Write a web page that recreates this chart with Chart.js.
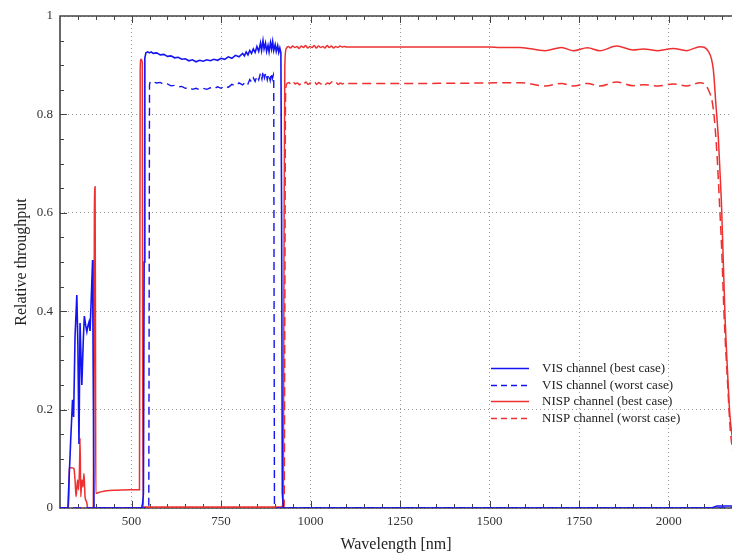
<!DOCTYPE html>
<html lang="en">
<head>
  <meta charset="UTF-8">
  <title>Relative throughput</title>
  <script src="https://cdn.jsdelivr.net/npm/chart.js"></script>
  <style>
    html, body { margin: 0; padding: 0; background: #fff; }
    canvas { display: block; }
  </style>
</head>
<body>

  <canvas id="throughputChart" width="732" height="556"></canvas>

  <script>
    // axis ranges and tick labels
    const xMin = 300, xMax = 2177;
    const xTickValues = [500, 750, 1000, 1250, 1500, 1750, 2000];
    const yTickValues = [0, 0.2, 0.4, 0.6, 0.8, 1];

    // VIS channel (best case)
    const visBestWl = [300, 322, 326, 330, 335, 338, 342, 347, 350, 353, 356, 361, 365, 368, 372, 375, 378, 381, 384, 388, 391, 392, 395,
      528, 531, 533, 535, 537, 540, 545, 550, 555, 560, 570, 580, 590, 600, 610, 620, 630, 640, 650, 660, 670, 680, 690, 700,
      710, 720, 730, 740, 750, 760, 770, 780, 790, 800, 810, 815, 820, 825, 830, 835, 840, 845, 850, 855, 860, 863, 867, 870,
      874, 877, 881, 884, 888, 891, 894, 897, 901, 904, 908, 911, 914, 917, 919, 921, 924, 2120, 2135, 2177];
    const visBest = [0, 0, 0.07, 0.14, 0.22, 0.185, 0.348, 0.433, 0.33, 0.13, 0.376, 0.25, 0.34, 0.39, 0.37, 0.358, 0.37, 0.378, 0.36, 0.44, 0.504, 0.37, 0,
      0, 0.01, 0.03, 0.5, 0.915, 0.925, 0.927, 0.925, 0.927, 0.924, 0.925, 0.921, 0.922, 0.918, 0.919, 0.915, 0.916, 0.912, 0.913, 0.909, 0.911, 0.907, 0.910, 0.908,
      0.911, 0.909, 0.912, 0.910, 0.914, 0.912, 0.917, 0.914, 0.920, 0.917, 0.924, 0.919, 0.927, 0.921, 0.930, 0.924, 0.933, 0.926, 0.938, 0.928, 0.945, 0.930, 0.950, 0.933,
      0.945, 0.928, 0.940, 0.927, 0.946, 0.933, 0.948, 0.930, 0.942, 0.928, 0.940, 0.926, 0.935, 0.925, 0.6, 0.03, 0, 0, 0.004, 0.004];

    // VIS channel (worst case)
    const visWorstWl = [300, 548, 549, 550, 552, 560, 570, 580, 590, 600, 610, 620, 630, 640, 650, 660, 670, 680, 690, 700,
      710, 720, 730, 740, 750, 760, 770, 780, 790, 800, 810, 820, 825, 830, 835, 840, 845, 850, 855, 860, 864, 867, 871,
      875, 879, 883, 887, 890, 893, 896, 897, 898, 899, 2177];
    const visWorst = [0, 0, 0.4, 0.86, 0.867, 0.866, 0.864, 0.865, 0.861, 0.862, 0.858, 0.859, 0.856, 0.857, 0.853, 0.855, 0.851, 0.853, 0.850, 0.853,
      0.851, 0.854, 0.852, 0.856, 0.853, 0.858, 0.855, 0.861, 0.858, 0.864, 0.860, 0.867, 0.862, 0.871, 0.865, 0.874, 0.867, 0.878, 0.870, 0.884, 0.872, 0.888, 0.874,
      0.885, 0.870, 0.882, 0.869, 0.884, 0.872, 0.880, 0.87, 0.4, 0, 0];

    // NISP channel (best case)
    const nispBestWl = [300, 324, 326, 332, 337, 339, 342, 345, 349, 352, 355, 356, 358, 361, 364, 367, 370, 374, 378, 393, 395, 396, 398, 399, 400,
      410, 430, 460, 500, 522, 524, 526, 530, 531, 532, 920, 924, 926, 928, 932, 938, 944, 950, 956, 962, 968, 974, 980, 986, 992,
      998, 1004, 1010, 1016, 1022, 1028, 1034, 1040, 1046, 1052, 1058, 1064, 1070, 1076, 1082, 1088, 1094, 1100, 1300, 1500,
      1529, 1585, 1655, 1701, 1734, 1773, 1808, 1855, 1901, 1929, 1971, 2013, 2050, 2088, 2111, 2125, 2132, 2139, 2143, 2148,
      2157, 2165, 2171, 2180];
    const nispBest = [0, 0, 0.081, 0.082, 0.081, 0.08, 0.057, 0.023, 0.057, 0.037, 0.10, 0.142, 0.023, 0.057, 0.043, 0.07, 0.023, 0.013, 0, 0, 0.3, 0.6, 0.653, 0.4, 0.03,
      0.032, 0.035, 0.036, 0.037, 0.037, 0.89, 0.912, 0.905, 0.3, 0.002, 0.002, 0.05, 0.6, 0.9, 0.934, 0.938, 0.935, 0.939, 0.936, 0.938, 0.934, 0.939, 0.936, 0.940, 0.935,
      0.938, 0.936, 0.940, 0.935, 0.939, 0.936, 0.938, 0.935, 0.940, 0.936, 0.939, 0.935, 0.938, 0.936, 0.939, 0.937, 0.938, 0.937, 0.937, 0.937,
      0.936, 0.936, 0.9295, 0.936, 0.9295, 0.9356, 0.9295, 0.939, 0.931, 0.933, 0.9295, 0.934, 0.9295, 0.9377, 0.928, 0.89, 0.82, 0.75, 0.69, 0.61,
      0.40, 0.27, 0.19, 0.13];

    // NISP channel (worst case)
    const nispWorstWl = [300, 926, 928, 930, 933, 939, 945, 951, 957, 963, 969, 975, 981, 987, 993, 999, 1005, 1011, 1017, 1023, 1029,
      1035, 1041, 1047, 1053, 1059, 1065, 1071, 1077, 1083, 1089, 1095, 1100, 1300, 1500,
      1529, 1585, 1655, 1701, 1734, 1773, 1808, 1855, 1901, 1929, 1971, 2013, 2050, 2088, 2111, 2125, 2135, 2142, 2148,
      2155, 2165, 2172, 2180];
    const nispWorst = [0, 0, 0.4, 0.84, 0.862, 0.865, 0.861, 0.866, 0.862, 0.864, 0.860, 0.865, 0.862, 0.866, 0.861, 0.864, 0.862, 0.866, 0.861, 0.865, 0.862,
      0.866, 0.861, 0.864, 0.862, 0.866, 0.862, 0.865, 0.861, 0.864, 0.862, 0.865, 0.863, 0.863, 0.864,
      0.8645, 0.8645, 0.8577, 0.863, 0.8577, 0.863, 0.8577, 0.866, 0.8584, 0.8605, 0.8577, 0.862, 0.8577, 0.8645, 0.85, 0.81, 0.72, 0.62, 0.53,
      0.39, 0.25, 0.16, 0.11];

    const toPoints = (wl, vals) => wl.map((w, i) => ({ x: w, y: vals[i] }));

    const BLUE = "#1414f0";
    const RED = "#ee3030";
    const serif = "'Liberation Serif', 'Times New Roman', serif";

    Chart.defaults.font.family = serif;
    Chart.defaults.color = "#333";

    // frame + inward tick marks (drawn under the curves, like the original)
    const framePlugin = {
      id: "frame",
      beforeDatasetsDraw(chart) {
        const { ctx, chartArea: a, scales: { x, y } } = chart;
        ctx.save();
        ctx.strokeStyle = "#444";
        ctx.lineWidth = 1;
        ctx.beginPath();
        for (let v = xMin + 50; v < xMax; v += 50) {
          const px = Math.round(x.getPixelForValue(v)) + 0.5;
          const len = v % 250 === 0 ? 7 : 4;
          ctx.moveTo(px, a.bottom); ctx.lineTo(px, a.bottom - len);
          ctx.moveTo(px, a.top); ctx.lineTo(px, a.top + len);
        }
        for (let i = 1; i < 20; i++) {
          const py = Math.round(y.getPixelForValue(i * 0.05)) + 0.5;
          const len = i % 4 === 0 ? 7 : 4;
          ctx.moveTo(a.left, py); ctx.lineTo(a.left + len, py);
        }
        ctx.stroke();
        ctx.lineWidth = 1.6;
        ctx.beginPath();
        ctx.moveTo(a.right, a.top);
        ctx.lineTo(a.left, a.top);
        ctx.lineTo(a.left, a.bottom);
        ctx.lineTo(a.right, a.bottom);
        ctx.stroke();
        ctx.restore();
      },
      // legend inside the plot, lower right
      afterDatasetsDraw(chart) {
        const { ctx, chartArea: a } = chart;
        const x0 = a.left + 431, y0 = a.top + 352, row = 16.7;
        ctx.save();
        ctx.font = "13px " + serif;
        ctx.textBaseline = "middle";
        ctx.fillStyle = "#222";
        chart.data.datasets.forEach((ds, i) => {
          const yy = Math.round(y0 + i * row) + 0.5;
          ctx.strokeStyle = ds.borderColor;
          ctx.lineWidth = 1.3;
          ctx.setLineDash(ds.borderDash ? [6, 4] : []);
          ctx.beginPath();
          ctx.moveTo(x0, yy);
          ctx.lineTo(x0 + 38, yy);
          ctx.stroke();
          ctx.fillText(ds.label, x0 + 51, yy);
        });
        ctx.restore();
      }
    };

    new Chart(document.getElementById("throughputChart"), {
      type: "line",
      data: {
        datasets: [
          { label: "VIS channel (best case)", data: toPoints(visBestWl, visBest),
            borderColor: BLUE, borderWidth: 1.6 },
          { label: "VIS channel (worst case)", data: toPoints(visWorstWl, visWorst),
            borderColor: BLUE, borderWidth: 1.4, borderDash: [8, 5] },
          { label: "NISP channel (best case)", data: toPoints(nispBestWl, nispBest),
            borderColor: RED, borderWidth: 1.5, cubicInterpolationMode: "monotone" },
          { label: "NISP channel (worst case)", data: toPoints(nispWorstWl, nispWorst),
            borderColor: RED, borderWidth: 1.5, borderDash: [9, 5], cubicInterpolationMode: "monotone" }
        ]
      },
      options: {
        responsive: false,
        animation: false,
        layout: { padding: { top: 16, right: 0, left: 0, bottom: 0 } },
        elements: { point: { radius: 0 }, line: { tension: 0 } },
        plugins: { legend: { display: false }, tooltip: { enabled: false } },
        scales: {
          x: {
            type: "linear",
            min: xMin,
            max: xMax,
            afterBuildTicks: s => { s.ticks = xTickValues.map(v => ({ value: v })); },
            afterFit: s => { s.height = 48; },
            grid: { color: "#999", lineWidth: 1, drawTicks: false },
            border: { display: false, dash: [1, 3] },
            ticks: { font: { size: 13 }, padding: 6, maxRotation: 0, callback: v => String(v) },
            title: { display: true, text: "Wavelength [nm]", font: { size: 16 }, color: "#222", padding: { top: 0, bottom: 2 } }
          },
          y: {
            type: "linear",
            min: 0,
            max: 1,
            afterBuildTicks: s => { s.ticks = yTickValues.map(v => ({ value: v })); },
            afterFit: s => { s.width = 60; },
            grid: { color: "#999", lineWidth: 1, drawTicks: false },
            border: { display: false, dash: [1, 3] },
            ticks: { font: { size: 13 }, padding: 7, callback: v => String(v) },
            title: { display: true, text: "Relative throughput", font: { size: 16 }, color: "#222", padding: { top: 12, bottom: 0 } }
          }
        }
      },
      plugins: [framePlugin]
    });
  </script>

</body>
</html>
